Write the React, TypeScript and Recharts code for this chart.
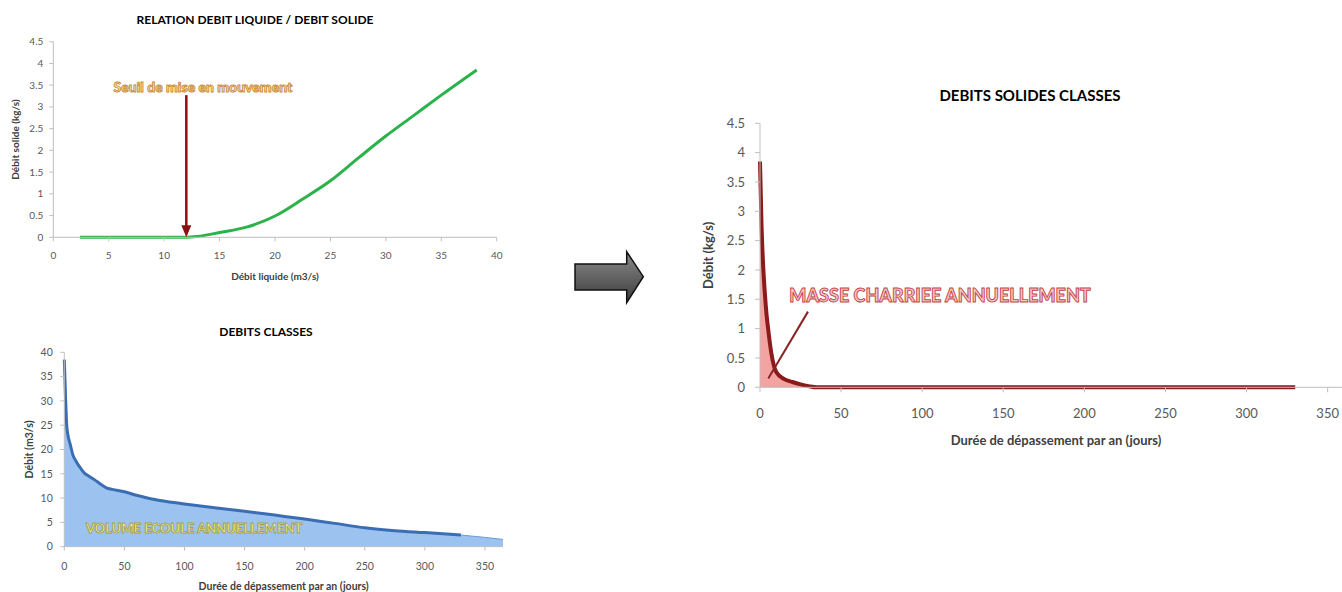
import {
  LineChart,
  Line,
  ComposedChart,
  Area,
  XAxis,
  YAxis,
  ReferenceLine,
  ReferenceDot,
} from 'recharts';

// relation debit liquide / debit solide
const liquidFlow = [2.4, 5, 10, 12, 13, 15, 17.5, 20, 22.5, 25, 27.5, 30, 32.5, 35, 38.2];
const solidFlow = [0, 0, 0, 0, 0.02, 0.11, 0.24, 0.49, 0.88, 1.3, 1.82, 2.33, 2.8, 3.27, 3.85];

// debits classes (m3/s)
const durationDays = [0, 1, 2, 3, 5, 7, 10, 14, 17, 20, 25, 30, 35, 40, 50, 60, 75, 100, 125, 150, 175, 200, 225, 250, 275, 300, 330, 365];
const dischargeFlow = [38.5, 31, 25, 23, 21, 19, 17.5, 16, 15.1, 14.6, 13.8, 12.9, 12.1, 11.8, 11.3, 10.6, 9.7, 8.8, 8.0, 7.3, 6.5, 5.7, 4.8, 3.9, 3.3, 2.9, 2.4, 1.5];
const lineEndDay = 330;

// debits solides classes (kg/s)
const solidDays = [0, 1, 2, 3, 4, 5, 7, 10, 15, 20, 25, 30, 35, 50, 100, 200, 330];
const solidDischarge = [3.85, 2.7, 2.05, 1.6, 1.25, 1.0, 0.58, 0.26, 0.14, 0.09, 0.05, 0.02, 0, 0, 0, 0, 0];

const relationXTicks = [0, 5, 10, 15, 20, 25, 30, 35, 40];
const kgTicks = [0, 0.5, 1, 1.5, 2, 2.5, 3, 3.5, 4, 4.5];
const dayTicks = [0, 50, 100, 150, 200, 250, 300, 350];
const m3Ticks = [0, 5, 10, 15, 20, 25, 30, 35, 40];

const FONT = "Lato, 'Open Sans', sans-serif";
const AXIS = '#bfbfbf';
const TICK = '#595959';

const relationData = liquidFlow.map((q, i) => ({ q, s: solidFlow[i] }));
const classedData = durationDays.map((d, i) => ({
  d,
  fill: dischargeFlow[i],
  line: d <= lineEndDay ? dischargeFlow[i] : null,
}));
const solidData = solidDays.map((d, i) => ({ d, v: solidDischarge[i] }));

function outlined(text: string, size: number, fill: string, stroke: string) {
  return (p: any) => (
    <text
      x={p.cx}
      y={p.cy}
      textAnchor="middle"
      dominantBaseline="central"
      fontFamily={FONT}
      fontWeight={900}
      fontSize={size}
      fill={fill}
      stroke={stroke}
      strokeWidth={0.9}
    >
      {text}
    </text>
  );
}

const arrowDown = (p: any) => (
  <g>
    <line x1={p.x1} y1={p.y1} x2={p.x2} y2={p.y2 - 10} stroke="#8b1010" strokeWidth={2.5} />
    <polygon points={`${p.x2 - 5},${p.y2 - 12} ${p.x2 + 5},${p.y2 - 12} ${p.x2},${p.y2}`} fill="#8b1010" />
  </g>
);

const title = (text: string, left: number, top: number, width: number, size: number) => (
  <div
    style={{
      position: 'absolute',
      left,
      top,
      width,
      textAlign: 'center',
      fontFamily: FONT,
      fontWeight: 700,
      fontSize: size,
      lineHeight: '20px',
      color: '#000',
    }}
  >
    {text}
  </div>
);

export default function App() {
  return (
    <div style={{ position: 'absolute', left: 0, top: 0, width: 1342, height: 592, overflow: 'hidden', background: '#fff' }}>
      {title('RELATION DEBIT LIQUIDE / DEBIT SOLIDE', 55, 10, 400, 12)}
      <div style={{ position: 'absolute', left: 0, top: 0 }}>
        <LineChart width={520} height={290} data={relationData} margin={{ top: 41.7, right: 23.3, bottom: 0, left: 0 }}>
          <XAxis
            type="number"
            dataKey="q"
            domain={[0, 40]}
            ticks={relationXTicks}
            height={52.7}
            stroke={AXIS}
            tickSize={4}
            tickMargin={11}
            tick={{ fill: TICK, fontSize: 10, fontFamily: FONT }}
            label={{ value: 'Débit liquide  (m3/s)', position: 'insideBottom', offset: 10, style: { fontFamily: FONT, fontWeight: 700, fontSize: 10, fill: '#404040' } }}
          />
          <YAxis
            type="number"
            domain={[0, 4.5]}
            ticks={kgTicks}
            width={53.3}
            stroke={AXIS}
            tickSize={4}
            tickMargin={6}
            tick={{ fill: TICK, fontSize: 10, fontFamily: FONT }}
            label={{ value: 'Débit solide (kg/s)', angle: -90, position: 'insideLeft', offset: 15, style: { textAnchor: 'middle', fontFamily: FONT, fontWeight: 700, fontSize: 10, fill: '#404040' } }}
          />
          <Line type="monotone" dataKey="s" stroke="#2cb24a" strokeWidth={3} dot={false} isAnimationActive={false} />
          <ReferenceLine segment={[{ x: 12, y: 3.27 }, { x: 12, y: 0 }]} shape={arrowDown} />
          <ReferenceDot x={13.5} y={3.46} r={0} shape={outlined('Seuil de mise en mouvement', 14, '#fde6b0', '#c98a35')} />
        </LineChart>
      </div>

      {title('DEBITS CLASSES', 166, 322, 200, 12)}
      <div style={{ position: 'absolute', left: 0, top: 310 }}>
        <ComposedChart width={520} height={282} data={classedData} margin={{ top: 42.3, right: 17, bottom: 0, left: 0 }}>
          <XAxis
            type="number"
            dataKey="d"
            domain={[0, 365]}
            ticks={dayTicks}
            height={45.3}
            stroke={AXIS}
            tickSize={4}
            tickMargin={11.6}
            tick={{ fill: TICK, fontSize: 10.5, fontFamily: FONT }}
            label={{ value: 'Durée de dépassement  par an (jours)', position: 'insideBottom', offset: 2, style: { fontFamily: FONT, fontWeight: 700, fontSize: 10.5, fill: '#404040' } }}
          />
          <YAxis
            type="number"
            domain={[0, 40]}
            ticks={m3Ticks}
            width={64.3}
            stroke={AXIS}
            tickSize={4}
            tickMargin={7.5}
            tick={{ fill: TICK, fontSize: 10.5, fontFamily: FONT }}
            label={{ value: 'Débit (m3/s)', angle: -90, position: 'insideLeft', offset: 29, style: { textAnchor: 'middle', fontFamily: FONT, fontWeight: 700, fontSize: 10.5, fill: '#404040' } }}
          />
          <Area type="monotone" dataKey="fill" stroke="#6f9bd3" strokeWidth={1} fill="#9cc3ef" fillOpacity={1} isAnimationActive={false} />
          <Line type="monotone" dataKey="line" stroke="#3b6db4" strokeWidth={3} dot={false} isAnimationActive={false} />
          <ReferenceDot x={108} y={3.85} r={0} shape={outlined('VOLUME ECOULE ANNUELLEMENT', 13, '#f3f3c4', '#a6a040')} />
        </ComposedChart>
      </div>

      <svg style={{ position: 'absolute', left: 570, top: 245 }} width={80} height={62}>
        <defs>
          <linearGradient id="arrowGrad" x1="0" y1="0" x2="0" y2="1">
            <stop offset="0%" stopColor="#8a8a8a" />
            <stop offset="100%" stopColor="#3c3c3c" />
          </linearGradient>
        </defs>
        <polygon
          points="5,19 56.7,19 56.7,6.7 73.3,31.7 56.7,57.7 56.7,45 5,45"
          fill="url(#arrowGrad)"
          stroke="#111"
          strokeWidth={1.5}
        />
      </svg>

      {title('DEBITS SOLIDES CLASSES', 880, 85, 300, 15)}
      <div style={{ position: 'absolute', left: 680, top: 60 }}>
        <ComposedChart width={700} height={400} data={solidData} margin={{ top: 63.3, right: 28, bottom: 0, left: 0 }}>
          <XAxis
            type="number"
            dataKey="d"
            domain={[0, 365]}
            ticks={dayTicks}
            height={72.7}
            stroke={AXIS}
            tickSize={5}
            tickMargin={16}
            tick={{ fill: TICK, fontSize: 13, fontFamily: FONT }}
            label={{ value: 'Durée de dépassement  par an (jours)', position: 'insideBottom', offset: 15.3, style: { fontFamily: FONT, fontWeight: 700, fontSize: 13, fill: '#404040' } }}
          />
          <YAxis
            type="number"
            domain={[0, 4.5]}
            ticks={kgTicks}
            width={80}
            stroke={AXIS}
            tickSize={5}
            tickMargin={10}
            tick={{ fill: TICK, fontSize: 13, fontFamily: FONT }}
            label={{ value: 'Débit (kg/s)', angle: -90, position: 'insideLeft', offset: 28, style: { textAnchor: 'middle', fontFamily: FONT, fontWeight: 700, fontSize: 13, fill: '#404040' } }}
          />
          <Area type="monotone" dataKey="v" stroke="#8b1a1a" strokeWidth={4} fill="#f4a3a3" fillOpacity={1} isAnimationActive={false} />
          <ReferenceLine segment={[{ x: 29.6, y: 1.29 }, { x: 5.1, y: 0.15 }]} stroke="#8b2323" strokeWidth={2} />
          <ReferenceDot x={111} y={1.57} r={0} shape={outlined('MASSE CHARRIEE ANNUELLEMENT', 18, '#f8c6c6', '#c24545')} />
        </ComposedChart>
      </div>
    </div>
  );
}
